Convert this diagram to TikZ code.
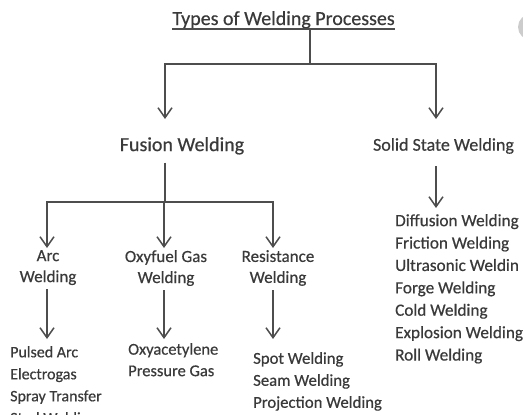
\documentclass[tikz,border=0pt]{standalone}
\usepackage{fontspec}
\setmainfont{Carlito}[FakeBold=0.5]
\usetikzlibrary{arrows.meta}
\definecolor{inkgray}{HTML}{3A3A3A}
\definecolor{linegray}{HTML}{4D4D4D}
\tikzset{
      txt/.style={text=inkgray, inner sep=0},
      head/.style={txt, font=\fontsize{20}{24}\selectfont, anchor=base},
      branch/.style={txt, anchor=north},
      kind/.style={txt, font=\fontsize{17}{21}\selectfont, align=center, anchor=north},
      items/.style={txt, align=left, anchor=north west},
      link/.style={draw=linegray, line width=1.5},
      arrow/.style={link, -{Straight Barb[length=10, width=14, line width=1.5]}},
}

\begin{document}
\begin{tikzpicture}[x=1pt, y=-1pt]
        \useasboundingbox (0,0) rectangle (523,415);
        \clip (0,0) rectangle (523,415);
        % button of the screenshot
        \fill[gray!40] (531,27) circle (13);

        % Headings
        \node[head] (title) at (283.5,25) {Types of Welding Processes};
        \draw[link, line width=1.3] ([yshift=-4]title.base west) -- ([yshift=-4]title.base east);
        \node[branch, font=\fontsize{20}{24}\selectfont] (fusion) at (182,137) {Fusion Welding};
        \node[branch, font=\fontsize{18}{22}\selectfont] (solid) at (443.5,138) {Solid State Welding};

        % Fusion welding kinds
        \node[kind] (arc) at (48,250) {Arc\\Welding};
        \node[kind] (oxy) at (166,250) {Oxyfuel Gas\\Welding};
        \node[kind] (res) at (278,250) {Resistance\\Welding};

        % Lists
        \node[items, font=\fontsize{16}{22}\selectfont] (arclist) at (10,346) {Pulsed Arc\\Electrogas\\Spray Transfer\\Stud Welding};
        \node[items, font=\fontsize{16.5}{21.5}\selectfont] (oxylist) at (128,343) {Oxyacetylene\\Pressure Gas};
        \node[items, font=\fontsize{16.7}{22}\selectfont] (reslist) at (253,352) {Spot Welding\\Seam Welding\\Projection Welding};
        \node[items, font=\fontsize{17.2}{22.4}\selectfont] (solidlist) at (395,214) {Diffusion Welding\\Friction Welding\\Ultrasonic Weldin\\Forge Welding\\Cold Welding\\Explosion Welding\\Roll Welding};

        % Connectors
        \coordinate (top) at (310,64);
        \draw[link] (title.south -| top) -- (top);
        \draw[arrow, shorten >=18] (top) -| ([xshift=-17]fusion.north);
        \draw[arrow, shorten >=19] (top) -| ([xshift=-7.5]solid.north);

        \coordinate (mid) at (165,202);
        \draw[link, shorten <=8] ([xshift=-17]fusion.south) -- (mid);
        \draw[arrow, shorten >=2] (mid) -| ([xshift=-1]arc.north);
        \draw[arrow, shorten >=2] (mid) -| ([xshift=-2]oxy.north);
        \draw[arrow, shorten >=2] (mid) -| ([xshift=-5]res.north);

        \draw[arrow, shorten <=4, shorten >=7] ([xshift=-1]arc.south) -- ([xshift=-1]arc.south |- arclist.north);
        \draw[arrow, shorten <=4, shorten >=4] ([xshift=-2]oxy.south) -- ([xshift=-2]oxy.south |- oxylist.north);
        \draw[arrow, shorten <=4, shorten >=13] ([xshift=-5]res.south) -- ([xshift=-5]res.south |- reslist.north);
        \draw[arrow, shorten <=12, shorten >=6] ([xshift=-7.5]solid.south) -- ([xshift=-7.5]solid.south |- solidlist.north);
\end{tikzpicture}
\end{document}
